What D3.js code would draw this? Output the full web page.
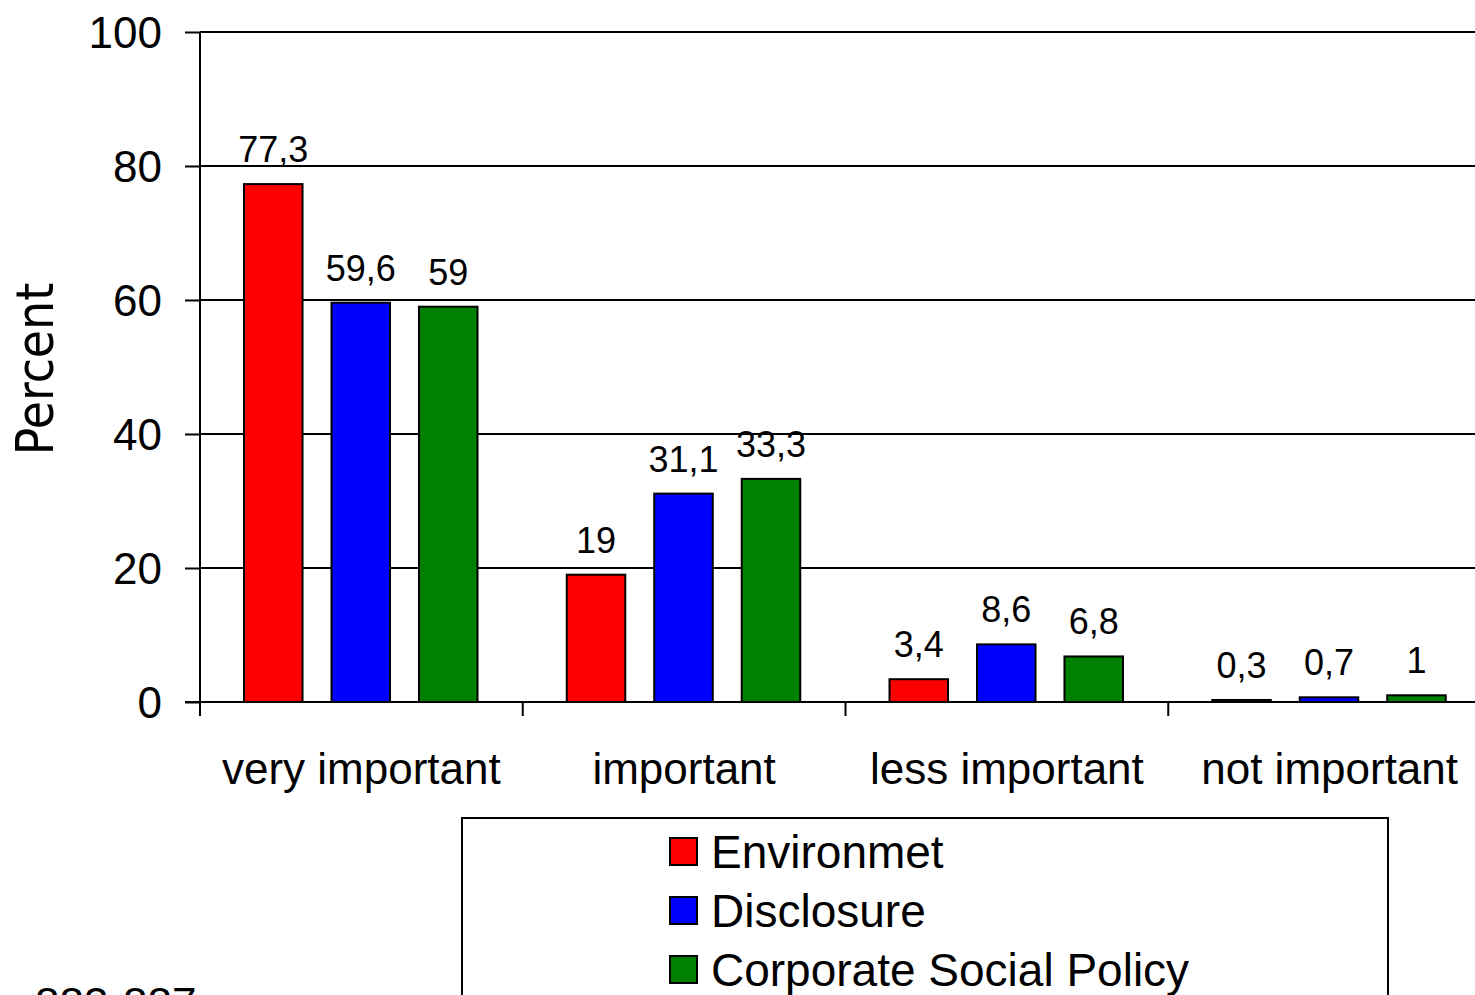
<!DOCTYPE html>
<html>
<head>
<meta charset="utf-8">
<script src="https://cdn.jsdelivr.net/npm/d3@7"></script>
<style>
  body { margin: 0; background: #fff; }
  svg { display: block; }
  text { font-family: Arial, "Liberation Sans", sans-serif; fill: #000; }
</style>
</head>
<body>
<svg id="chart"></svg>
<script>
// data
const categories = ["very important", "important", "less important", "not important"];
const seriesNames = ["Environmet", "Disclosure", "Corporate Social Policy"];
const environment = [77.3, 19, 3.4, 0.3];
const disclosure = [59.6, 31.1, 8.6, 0.7];
const socialPolicy = [59, 33.3, 6.8, 1];
const colors = ["#ff0000", "#0000ff", "#008000"];
const yTicks = [0, 20, 40, 60, 80, 100];

var width = 1475;
var height = 995;

const svg = d3.select("#chart")
  .attr("width", width)
  .attr("height", height);

const allSeries = [environment, disclosure, socialPolicy];

// plot area runs past the right edge of the window, like the original
const x0 = d3.scaleBand()
  .domain(categories)
  .range([200, 1491])
  .padding(0);

const x1 = d3.scaleBand()
  .domain(seriesNames)
  .range([44, 277.5])
  .paddingInner(0.331)
  .paddingOuter(0);

const y = d3.scaleLinear()
  .domain([0, 100])
  .range([702, 32]);

// gridlines
svg.append("g")
  .selectAll("line")
  .data(yTicks.filter(d => d > 0))
  .join("line")
  .attr("x1", 200)
  .attr("x2", width)
  .attr("y1", d => y(d))
  .attr("y2", d => y(d))
  .attr("stroke", "#000")
  .attr("stroke-width", 2);

// y axis
const yAxis = svg.append("g")
  .attr("transform", "translate(200,0)")
  .call(d3.axisLeft(y).tickValues(yTicks).tickSize(15).tickPadding(23).tickFormat(d3.format("d")));
yAxis.select(".domain").remove();
yAxis.selectAll(".tick line").attr("stroke", "#000").attr("stroke-width", 2);
yAxis.selectAll(".tick text")
  .style("font-size", "44px")
  .attr("dy", "0.36em");
yAxis.append("line")
  .attr("x1", 0).attr("x2", 0)
  .attr("y1", y(100)).attr("y2", y(0))
  .attr("stroke", "#000").attr("stroke-width", 2);

svg.append("text")
  .attr("transform", `translate(53,${369}) rotate(-90)`)
  .attr("text-anchor", "middle")
  .style("font-family", "'DejaVu Sans Condensed', 'DejaVu Sans', sans-serif")
  .style("font-size", "51px")
  .text("Percent");

// bars
const group = svg.append("g")
  .selectAll("g")
  .data(categories)
  .join("g")
  .attr("transform", d => `translate(${x0(d)},0)`);

const bar = group.selectAll("g")
  .data((cat, i) => seriesNames.map((s, j) => ({ series: s, value: allSeries[j][i], color: colors[j] })))
  .join("g");

bar.append("rect")
  .attr("x", d => x1(d.series))
  .attr("y", d => y(d.value))
  .attr("width", x1.bandwidth())
  .attr("height", d => y(0) - y(d.value))
  .attr("fill", d => d.color)
  .attr("stroke", "#000")
  .attr("stroke-width", 2);

bar.append("text")
  .attr("x", d => x1(d.series) + x1.bandwidth() / 2)
  .attr("y", d => y(d.value) - 22)
  .attr("text-anchor", "middle")
  .style("font-size", "36px")
  .text(d => String(d.value).replace(".", ","));

// x axis line + category ticks
svg.append("line")
  .attr("x1", 185).attr("x2", width)
  .attr("y1", y(0)).attr("y2", y(0))
  .attr("stroke", "#000").attr("stroke-width", 2);

svg.append("g")
  .selectAll("line")
  .data(categories)
  .join("line")
  .attr("x1", d => x0(d)).attr("x2", d => x0(d))
  .attr("y1", y(0)).attr("y2", y(0) + 14)
  .attr("stroke", "#000").attr("stroke-width", 2);

svg.append("g")
  .selectAll("text")
  .data(categories)
  .join("text")
  .attr("x", d => x0(d) + x0.bandwidth() / 2)
  .attr("y", 784)
  .attr("text-anchor", "middle")
  .style("font-size", "44px")
  .text(d => d);

// legend
const legend = svg.append("g");
legend.append("rect")
  .attr("x", 462).attr("y", 818)
  .attr("width", 926).attr("height", 200)
  .attr("fill", "#fff")
  .attr("stroke", "#000").attr("stroke-width", 2);

const item = legend.selectAll("g")
  .data(seriesNames)
  .join("g")
  .attr("transform", (d, i) => `translate(670,${838 + i * 59})`);

item.append("rect")
  .attr("width", 27).attr("height", 27)
  .attr("fill", (d, i) => colors[i])
  .attr("stroke", "#000").attr("stroke-width", 2);

item.append("text")
  .attr("x", 41)
  .attr("y", 30)
  .style("font-size", "46px")
  .text(d => d);

// cut-off page number in lower left
svg.append("text")
  .attr("x", 35).attr("y", 1019)
  .style("font-size", "44px")
  .text("883-887");
</script>
</body>
</html>
